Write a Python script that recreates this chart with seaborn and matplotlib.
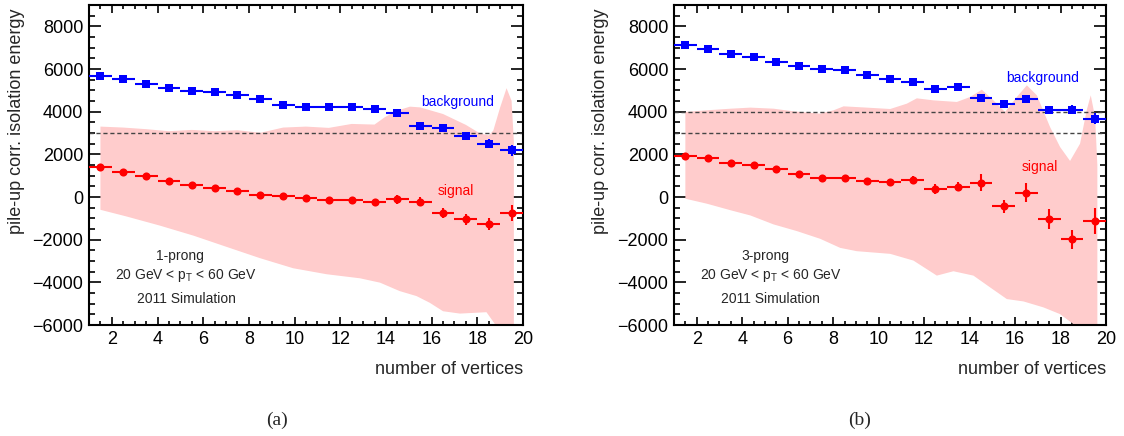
import numpy as np
import pandas as pd
import matplotlib
matplotlib.use("Agg")
import matplotlib.pyplot as plt
import seaborn as sns

# ---------------- data ----------------
nvtx = [1.5, 2.5, 3.5, 4.5, 5.5, 6.5, 7.5, 8.5, 9.5, 10.5,
        11.5, 12.5, 13.5, 14.5, 15.5, 16.5, 17.5, 18.5, 19.5]

# panel (a): 1-prong
bkg_a = [5660, 5520, 5320, 5130, 4990, 4930, 4760, 4575, 4310, 4200,
         4215, 4200, 4140, 3920, 3350, 3225, 2870, 2500, 2190]
bkg_a_err = [40, 40, 40, 40, 40, 40, 50, 50, 60, 60,
             70, 80, 110, 150, 130, 150, 160, 200, 250]
sig_a = [1385, 1180, 975, 755, 585, 425, 300, 80, 65, -30,
         -155, -125, -250, -110, -220, -755, -1040, -1260, -755]
sig_a_err = [50, 50, 50, 50, 50, 50, 60, 60, 70, 80,
             80, 100, 130, 200, 220, 230, 250, 270, 380]

band_a_up_x = [1.5, 2.5, 3.5, 4.5, 5.5, 6.5, 7.5, 8.5, 9.5, 10.5, 11.5, 12.5,
               13.5, 13.95, 14.5, 15.05, 15.5, 16.5, 17.5, 18.1, 18.5, 18.7,
               19.0, 19.28, 19.5, 19.6]
band_a_up = [3300, 3255, 3180, 3085, 3145, 3085, 3130, 3010, 3255, 3300, 3240, 3425,
             3395, 3740, 4050, 4235, 4200, 3890, 3380, 2990, 2885, 3115,
             4200, 5100, 4510, 2600]
band_a_lo_x = [1.5, 2.65, 4.1, 5.57, 7.0, 8.48, 9.94, 11.4, 12.86, 13.74, 14.6,
               15.34, 15.92, 16.5, 17.24, 18.4, 18.84, 19.28, 19.6]
band_a_lo = [-600, -915, -1340, -1810, -2330, -2865, -3340, -3620, -3810, -4015, -4410,
             -4645, -4960, -5355, -5465, -5400, -6060, -6600, -7000]

# panel (b): 3-prong
bkg_b = [7125, 6920, 6690, 6545, 6330, 6155, 6000, 5970, 5705, 5530,
         5405, 5065, 5155, 4655, 4375, 4580, 4095, 4095, 3670]
bkg_b_err = [40, 40, 40, 40, 40, 40, 50, 50, 60, 60,
             70, 80, 100, 120, 100, 150, 100, 200, 250]
sig_b = [1935, 1845, 1595, 1485, 1290, 1080, 895, 895, 770, 690,
         800, 375, 485, 675, -440, 205, -1035, -1990, -1130]
sig_b_err = [60, 60, 60, 60, 60, 60, 70, 70, 80, 100,
             170, 220, 200, 400, 300, 450, 450, 450, 600]

band_b_up_x = [1.5, 2.45, 3.5, 4.36, 5.38, 6.26, 7.43, 8.02, 8.46, 9.48, 10.51,
               11.24, 11.68, 12.41, 13.44, 14.03, 14.54, 15.05, 15.56, 16.08,
               16.52, 16.96, 17.54, 17.98, 18.42, 18.86, 19.15, 19.33, 19.52, 19.62]
band_b_up = [3985, 4065, 4140, 4190, 4140, 4015, 3905, 4065, 4250, 4190, 4125,
             4375, 4625, 4530, 4455, 4690, 5030, 4530, 3985, 4690,
             5235, 4765, 3280, 2345, 1690, 2500, 4065, 4765, 3750, 1500]
band_b_lo_x = [1.5, 2.45, 3.5, 4.36, 5.38, 6.41, 7.43, 8.31, 9.04, 10.51, 11.53,
               12.56, 13.29, 14.17, 14.9, 15.64, 16.37, 17.25, 17.98, 18.57,
               19.15, 19.62]
band_b_lo = [-80, -315, -625, -865, -1285, -1600, -1960, -2385, -2540, -2665, -2980,
             -3685, -3480, -3685, -4235, -4785, -4895, -5175, -5490, -5960,
             -6500, -7000]

ref_lines_a = [3000]
ref_lines_b = [4000, 3000]

prong_labels = ["1-prong", "3-prong"]
captions = ["(a)", "(b)"]

# ---------------- style ----------------
sns.set_style("ticks")
plt.rcParams["font.family"] = ["Liberation Sans", "DejaVu Sans"]
plt.rcParams["axes.unicode_minus"] = True

BLUE = "#0000ff"
RED = "#ff0000"
PINK = "#ffcccc"

fig = plt.figure(figsize=(11.24, 4.36), dpi=100)
W, H = 1124.0, 436.0
ax_a = fig.add_axes([89 / W, (H - 325) / H, 434 / W, 320 / H])
ax_b = fig.add_axes([674 / W, (H - 325) / H, 432 / W, 320 / H])

panels = [
    (ax_a, bkg_a, bkg_a_err, sig_a, sig_a_err, band_a_up_x, band_a_up,
     band_a_lo_x, band_a_lo, ref_lines_a, (17.14, 4465), (17.05, 290), -0.166),
    (ax_b, bkg_b, bkg_b_err, sig_b, sig_b_err, band_b_up_x, band_b_up,
     band_b_lo_x, band_b_lo, ref_lines_b, (17.2, 5595), (17.1, 1420), -0.171),
]

for i, (ax, bkg, bkg_err, sig, sig_err, ux, uy, lx, ly, refs,
        bpos, spos, ylx) in enumerate(panels):
    # band
    poly_x = list(ux) + list(lx[::-1])
    poly_y = list(uy) + list(ly[::-1])
    ax.fill(poly_x, poly_y, color=PINK, lw=0, zorder=1)

    for r in refs:
        ax.axhline(r, color="#444444", lw=1.0, ls=(0, (3, 2)), zorder=2)

    df = pd.DataFrame({"nvtx": nvtx, "bkg": bkg, "sig": sig})
    ax.errorbar(nvtx, bkg, xerr=0.5, yerr=bkg_err, fmt="none",
                ecolor=BLUE, elinewidth=1.5, capsize=0, zorder=3)
    ax.errorbar(nvtx, sig, xerr=0.5, yerr=sig_err, fmt="none",
                ecolor=RED, elinewidth=1.5, capsize=0, zorder=3)
    sns.scatterplot(data=df, x="nvtx", y="bkg", ax=ax, marker="s", s=34,
                    color=BLUE, edgecolor=BLUE, linewidth=0, zorder=4)
    sns.scatterplot(data=df, x="nvtx", y="sig", ax=ax, marker="o", s=34,
                    color=RED, edgecolor=RED, linewidth=0, zorder=4)

    ax.set_xlim(1, 20)
    ax.set_ylim(-6000, 9000)
    ax.set_xticks(range(2, 21, 2))
    ax.set_xticks(np.arange(1, 20.01, 0.5), minor=True)
    ax.set_yticks(range(-6000, 8001, 2000))
    ax.set_yticks(range(-6000, 9001, 500), minor=True)
    ax.set_xlabel("")
    ax.set_ylabel("")
    for s in ax.spines.values():
        s.set_visible(True)
        s.set_linewidth(1.5)
        s.set_color("black")
    ax.tick_params(axis="both", which="both", direction="in", top=True,
                   right=True, colors="black", width=1.2, labelsize=13)
    ax.tick_params(axis="y", which="major", length=8.5, pad=4)
    ax.tick_params(axis="y", which="minor", length=4.3)
    ax.tick_params(axis="x", which="major", length=6, pad=4)
    ax.tick_params(axis="x", which="minor", length=3)

    ax.text(ylx, 0.99, "pile-up corr. isolation energy", transform=ax.transAxes,
            rotation=90, ha="center", va="top", fontsize=13)
    ax.text(1.0, -0.14, "number of vertices", transform=ax.transAxes,
            ha="right", va="center", fontsize=13)

    ax.text(bpos[0], bpos[1], "background", color=BLUE, fontsize=10,
            ha="center", va="center", zorder=5)
    ax.text(spos[0], spos[1], "signal", color=RED, fontsize=10,
            ha="center", va="center", zorder=5)

    ax.text(5.0, -2770, prong_labels[i], fontsize=10, ha="center", va="center", zorder=5)
    ax.text(5.25, -3670, r"20 GeV < p$_\mathregular{T}$ < 60 GeV", fontsize=10,
            ha="center", va="center", zorder=5)
    ax.text(5.25, -4760, "2011 Simulation", fontsize=10, ha="center",
            va="center", zorder=5)

fig.text(276.7 / W, 1 - 420 / H, captions[0], ha="center", va="center",
         fontsize=14, family=["Liberation Serif", "DejaVu Serif"])
fig.text(860 / W, 1 - 420 / H, captions[1], ha="center", va="center",
         fontsize=14, family=["Liberation Serif", "DejaVu Serif"])

fig.savefig("out.png", dpi=100)
